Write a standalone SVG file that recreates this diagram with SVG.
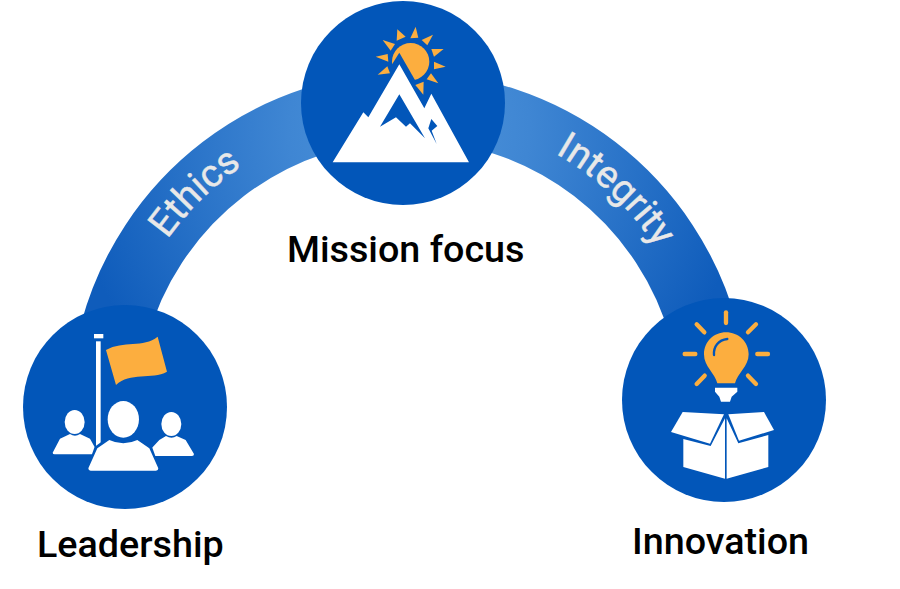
<svg xmlns="http://www.w3.org/2000/svg" xmlns:xlink="http://www.w3.org/1999/xlink" width="900" height="589" viewBox="0 0 900 589">
<style>
.disc{fill:#0256b9}
.w{fill:#fff}
.o{fill:#fcae3f}
.b{fill:#0256b9}
.ray{stroke:#fcae3f;stroke-width:13;stroke-linecap:round;fill:none}
.band{fill:none;stroke:url(#bandGrad);stroke-width:68}
.lab{font-family:Roboto,"Liberation Sans",sans-serif;font-weight:500;font-size:37.7px;fill:#000}
.arcLab{font-family:Roboto,"Liberation Sans",sans-serif;font-size:38.5px;fill:#e8e8e8;stroke:#e8e8e8;stroke-width:.4;text-anchor:middle}
</style>
<defs>
<radialGradient id="bandGrad" gradientUnits="userSpaceOnUse" cx="409" cy="130" r="345">
<stop offset="0" stop-color="#4f95db"/>
<stop offset="0.35" stop-color="#3f86d3"/>
<stop offset="1" stop-color="#0f5cbb"/>
</radialGradient>
<path id="ethicsPath" d="M116.200 362 A297 297 0 0 1 366.100 118.100"/>
<path id="integrityPath" d="M445.200 117.200 A297 297 0 0 1 700.500 355.300"/>
</defs>
<rect width="900" height="589" fill="#fff"/>
<g id="connectors">
<path id="ethics-band" class="band" d="M114 332 A306 306 0 0 1 409 106"/>
<path id="integrity-band" class="band" d="M409 106 A306 306 0 0 1 704 332"/>
<text class="arcLab"><textPath href="#ethicsPath" xlink:href="#ethicsPath" startOffset="50%">Ethics</textPath></text>
<text class="arcLab"><textPath href="#integrityPath" xlink:href="#integrityPath" startOffset="50%">Integrity</textPath></text>
</g>
<g id="mission-focus">
<circle class="disc" cx="403" cy="103" r="102"/>
<g transform="translate(300 0) scale(.3333)">
<circle class="o" cx="332" cy="185" r="56"/>
<polygon class="b" points="298,158 345,240 298,262 262,215"/>
<polygon class="o" points="292,88 290,122 317,110"/>
<polygon class="o" points="347,80 331,115 355,113"/>
<polygon class="o" points="399,104 365,120 382,136"/>
<polygon class="o" points="431,147 394,147 402,170"/>
<polygon class="o" points="437,200 402,185 402,208"/>
<polygon class="o" points="415,250 380,238 393,220"/>
<polygon class="o" points="370,284 346,255 371,245"/>
<polygon class="o" points="233,224 262,199 270,220"/>
<polygon class="o" points="227,170 263,162 265,185"/>
<polygon class="o" points="248,120 285,132 272,152"/>
<polygon class="w" points="98,487 190,337 205,352 298,193 373,325 394,281 507,487"/>
<polygon class="b" points="298,283 240,380 288,352 318,380 330,370 375,415"/>
<polygon class="b" points="394,357 385,385 410,432 395,392 412,378"/>
</g>
<text class="lab" x="287" y="262">Mission focus</text>
</g>
<g id="leadership">
<circle class="disc" cx="125" cy="407" r="102"/>
<g transform="translate(20 300) scale(.3333)">
<rect class="w" x="222" y="102" width="28" height="13"/>
<rect class="w" x="228" y="124" width="14" height="315"/>
<path class="o" d="M258 150C310 120 370 145 413 110L441 215C395 240 330 215 288 255Z"/>
<ellipse class="w" cx="164" cy="366" rx="30" ry="36"/>
<path class="w" d="M98 458L120 416L150 402Q165 412 180 402L210 416L226 445V463H104Q98 463 98 458Z"/>
<ellipse class="w" cx="454" cy="372" rx="30" ry="36"/>
<path class="w" d="M395 445L418 420L438 408Q455 418 470 408L497 420L522 462Q522 468 516 468H395Z"/>
<path class="b" d="M198 512L224 440L264 412Q310 432 356 412L396 440L422 512Z"/>
<ellipse class="w" cx="310" cy="358" rx="47" ry="55"/>
<path class="w" d="M205 505L232 445L268 420Q310 440 352 420L388 445L415 505Q415 512 408 512H212Q205 512 205 505Z"/>
</g>
<text class="lab" x="37" y="557">Leadership</text>
</g>
<g id="innovation">
<circle class="disc" cx="724" cy="400" r="102"/>
<g transform="translate(620 295) scale(.3333)">
<path class="o" d="M292 265C285 235 252 215 252 178C252 140 282 112 318 112C355 112 386 140 386 178C386 215 352 235 345 265Z"/>
<path d="M282 180C280 155 295 135 322 132" fill="none" stroke="#0256b9" stroke-width="7" stroke-linecap="round"/>
<path class="w" d="M285 278H352V290L335 305L330 320H303L298 305L285 290Z"/>
<line class="ray" x1="318" y1="52" x2="318" y2="84"/>
<line class="ray" x1="230" y1="88" x2="253" y2="112"/>
<line class="ray" x1="408" y1="88" x2="384" y2="112"/>
<line class="ray" x1="194" y1="177" x2="226" y2="177"/>
<line class="ray" x1="412" y1="177" x2="444" y2="177"/>
<line class="ray" x1="254" y1="242" x2="230" y2="267"/>
<line class="ray" x1="384" y1="242" x2="408" y2="267"/>
<polygon class="w" points="190,432 272,453 315,370 315,551 190,516"/>
<polygon class="w" points="320,370 355,445 445,420 445,516 320,551"/>
<polygon class="w" points="188,351 312,358 270,446 153,411"/>
<polygon class="w" points="325,358 432,351 462,405 357,437"/>
</g>
<text class="lab" x="632" y="554">Innovation</text>
</g>
</svg>
